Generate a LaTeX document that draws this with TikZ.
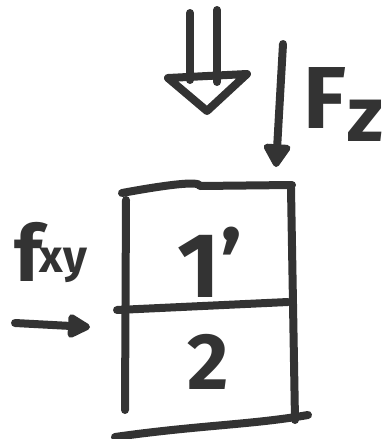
\documentclass[tikz,border=0pt]{standalone}
\usepackage{fontspec}
\setmainfont{Fira Sans}
\usetikzlibrary{arrows.meta}
\definecolor{ink}{HTML}{333333}
\begin{document}
\begin{tikzpicture}[x=1pt,y=-1pt,
  pen/.style={draw=ink,line width=8pt,line cap=round,line join=round},
  lbl/.style={text=ink,inner sep=0pt,font=\bfseries}]
\useasboundingbox (0,0) rectangle (389,439);
% hollow load arrow
\coordinate (hl1) at (190,13);
\coordinate (hl2) at (190,80);
\coordinate (hr1) at (217,10);
\coordinate (hr2) at (217,82);
\coordinate (tl) at (168,78);
\coordinate (tr) at (247,74);
\coordinate (tt) at (207,111);
\draw[pen] (hl1) -- (hl2);
\draw[pen] (hr1) -- (hr2);
\draw[pen] (tl) -- (tr) -- (tt) -- cycle;
% Fz arrow
\coordinate (fz1) at (283,44);
\coordinate (fz2) at (276,167);
\draw[pen,-{Triangle[length=26pt,width=30pt,round]}] (fz1) -- (fz2);
\node[lbl,anchor=base west] (Fz) at (303,128)
  {\fontsize{88}{88}\selectfont F\kern1pt\raisebox{-13pt}{\fontsize{78}{78}\selectfont z}};
% box
\coordinate (tl0) at (122,193);
\coordinate (tm0) at (200,186);
\coordinate (tr0) at (292,185);
\coordinate (lt) at (126,200);
\coordinate (lb) at (125,410);
\coordinate (rt) at (291,188);
\coordinate (rb) at (295,420);
\coordinate (ml) at (117,310);
\coordinate (mr) at (288,302);
\coordinate (bl) at (115,437);
\coordinate (br) at (308,415);
\draw[pen] (tl0) .. controls (160,186) and (200,180) .. (tm0) -- (tr0);
\draw[pen] (lt) -- (lb);
\draw[pen] (rt) -- (rb);
\draw[pen] (ml) -- (mr);
\draw[pen] (bl) .. controls (200,425) and (250,425) .. (br);
\node[lbl] (n1) at (210,262) {\fontsize{92}{92}\selectfont 1’};
\node[lbl] (n2) at (208,362) {\fontsize{80}{80}\selectfont 2};
% fxy
\node[lbl,anchor=base west] (fxy) at (14,281)
  {\fontsize{78}{78}\selectfont f\kern-2pt\raisebox{9pt}{\fontsize{46}{46}\selectfont xy}};
\coordinate (a1) at (15,323);
\coordinate (a2) at (90,327);
\draw[pen,-{Triangle[length=26pt,width=26pt,round]}] (a1) -- (a2);
\end{tikzpicture}
\end{document}
